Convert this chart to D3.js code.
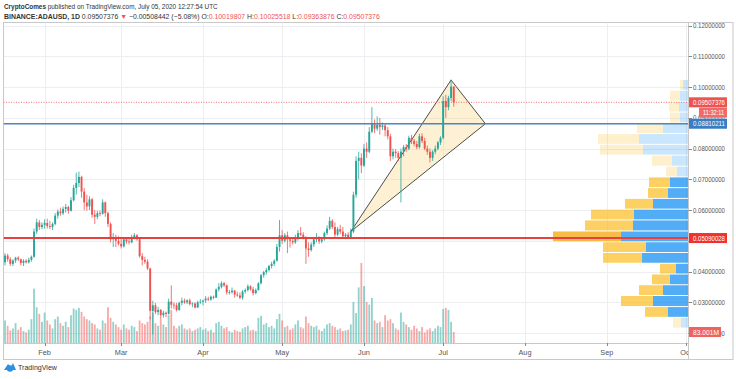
<!DOCTYPE html>
<html><head><meta charset="utf-8">
<script src="https://cdn.jsdelivr.net/npm/d3@7"></script>
<style>
html,body{margin:0;padding:0;background:#fff;}
svg{display:block;font-family:"Liberation Sans","DejaVu Sans",Arial,sans-serif;}
</style></head><body>
<svg id="c" width="736" height="379"></svg>
<script>
// ---------- DATA ----------
const startDay = Date.UTC(2020,0,17), endDay = Date.UTC(2020,6,6);
const open = [
 .0430,.0452,.0440,.0425,.0436,.0445,.0440,.0428,.0435,.0430,.0438,.0448,.0530,.0560,.0545,
 .0552,.0558,.0548,.0545,.0555,.0582,.0595,.0590,.0604,.0610,.0598,.0632,.0672,.0688,.0708,.0660,.0625,.0612,.0635,.0585,.0578,.0590,.0588,.0625,.0590,.0555,.0505,.0512,.0500,
 .0490,.0482,.0505,.0498,.0495,.0512,.0518,.0505,.0450,.0438,.0432,.0410,.0272,.0290,.0268,.0275,.0258,.0266,.0262,.0302,.0292,.0290,.0275,.0298,.0305,.0300,.0306,.0294,.0296,.0283,.0300,
 .0302,.0306,.0312,.0309,.0318,.0315,.0342,.0350,.0362,.0355,.0332,.0333,.0338,.0325,.0322,.0315,.0335,.0340,.0352,.0342,.0330,.0340,.0362,.0388,.0398,.0405,.0418,.0425,.0435,.0480,
 .0518,.0500,.0518,.0505,.0500,.0495,.0510,.0525,.0520,.0512,.0475,.0470,.0488,.0505,.0512,.0498,.0505,.0525,.0540,.0565,.0545,.0520,.0538,.0530,.0515,.0520,.0512,.0530,.0650,.0760,.0770,
 .0745,.0800,.0790,.0855,.0880,.0865,.0878,.0870,.0875,.0860,.0840,.0775,.0790,.0785,.0770,.0790,.0805,.0800,.0835,.0825,.0815,.0805,.0840,.0825,.0800,.0790,.0770,.0790,.0800,.0820,
 .0835,.0955,.0935,.0965,.10019807];
const high = [
 .0460,.0458,.0447,.0440,.0448,.0450,.0442,.0440,.0440,.0445,.0452,.0540,.0572,.0568,.0560,
 .0570,.0572,.0565,.0560,.0590,.0602,.0608,.0612,.0620,.0615,.0642,.0682,.0722,.0725,.0712,.0672,.0650,.0645,.0640,.0600,.0598,.0598,.0635,.0628,.0595,.0560,.0525,.0520,.0515,
 .0505,.0510,.0512,.0508,.0520,.0525,.0522,.0508,.0460,.0448,.0440,.0412,.0305,.0298,.0285,.0278,.0272,.0270,.0312,.0355,.0300,.0298,.0302,.0315,.0312,.0310,.0312,.0300,.0300,.0305,.0310,
 .0308,.0320,.0318,.0322,.0322,.0345,.0362,.0368,.0366,.0358,.0340,.0348,.0340,.0334,.0332,.0340,.0345,.0358,.0355,.0350,.0345,.0365,.0392,.0402,.0412,.0422,.0432,.0440,.0490,.0568,
 .0535,.0525,.0530,.0512,.0508,.0520,.0535,.0545,.0528,.0515,.0495,.0495,.0510,.0525,.0515,.0510,.0530,.0550,.0578,.0570,.0560,.0545,.0552,.0545,.0525,.0528,.0540,.0660,.0775,.0790,.0785,
 .0815,.0820,.0870,.0935,.0895,.0905,.0900,.0885,.0880,.0870,.0848,.0800,.0798,.0792,.0800,.0812,.0815,.0842,.0845,.0832,.0825,.0848,.0850,.0835,.0810,.0800,.0795,.0810,.0825,.0840,
 .0970,.0975,.0972,.1025,.10025518];
const low = [
 .0420,.0432,.0418,.0418,.0428,.0434,.0420,.0418,.0426,.0426,.0432,.0445,.0522,.0535,.0538,
 .0540,.0540,.0538,.0535,.0550,.0572,.0582,.0584,.0592,.0588,.0595,.0628,.0650,.0675,.0640,.0600,.0598,.0600,.0575,.0555,.0570,.0580,.0585,.0578,.0545,.0495,.0480,.0480,.0485,
 .0475,.0478,.0490,.0488,.0492,.0505,.0500,.0445,.0420,.0425,.0405,.0245,.0195,.0262,.0258,.0245,.0250,.0252,.0260,.0280,.0278,.0270,.0272,.0290,.0295,.0294,.0290,.0284,.0280,.0281,.0295,
 .0290,.0298,.0304,.0305,.0310,.0314,.0335,.0345,.0350,.0325,.0325,.0328,.0315,.0318,.0310,.0308,.0328,.0335,.0338,.0322,.0326,.0338,.0358,.0380,.0390,.0400,.0410,.0418,.0432,.0465,
 .0490,.0495,.0460,.0478,.0488,.0490,.0500,.0515,.0505,.0425,.0448,.0465,.0480,.0495,.0490,.0492,.0500,.0518,.0535,.0538,.0510,.0515,.0522,.0510,.0505,.0508,.0508,.0525,.0640,.0700,.0720,
 .0740,.0770,.0785,.0850,.0850,.0858,.0845,.0860,.0840,.0830,.0760,.0765,.0770,.0760,.0625,.0775,.0790,.0795,.0815,.0808,.0798,.0800,.0818,.0795,.0780,.0755,.0760,.0782,.0795,.0812,
 .0830,.0900,.0925,.0955,.09363876];
const close = [
 .0452,.0440,.0425,.0436,.0445,.0440,.0428,.0435,.0430,.0438,.0448,.0530,.0560,.0545,.0552,
 .0558,.0548,.0545,.0555,.0582,.0595,.0590,.0604,.0610,.0598,.0632,.0672,.0688,.0708,.0660,.0625,.0612,.0635,.0585,.0578,.0590,.0588,.0625,.0590,.0555,.0505,.0512,.0500,.0490,
 .0482,.0505,.0498,.0495,.0512,.0518,.0505,.0450,.0438,.0432,.0410,.0272,.0290,.0268,.0275,.0258,.0266,.0262,.0302,.0292,.0290,.0275,.0298,.0305,.0300,.0306,.0294,.0296,.0283,.0300,.0302,
 .0306,.0312,.0309,.0318,.0315,.0342,.0350,.0362,.0355,.0332,.0333,.0338,.0325,.0322,.0315,.0335,.0340,.0352,.0342,.0330,.0340,.0362,.0388,.0398,.0405,.0418,.0425,.0435,.0480,.0518,
 .0500,.0518,.0505,.0500,.0495,.0510,.0525,.0520,.0512,.0475,.0470,.0488,.0505,.0512,.0498,.0505,.0525,.0540,.0565,.0545,.0520,.0538,.0530,.0515,.0520,.0512,.0530,.0650,.0760,.0770,.0745,
 .0800,.0790,.0855,.0880,.0865,.0878,.0870,.0875,.0860,.0840,.0775,.0790,.0785,.0770,.0790,.0805,.0800,.0835,.0825,.0815,.0805,.0840,.0825,.0800,.0790,.0770,.0790,.0800,.0820,.0835,
 .0955,.0935,.0965,.1002,.09507376];
// volume, millions
const volume = [
 170,130,95,110,150,100,120,90,80,100,180,410,270,220,160,
 230,170,140,110,180,200,150,130,160,120,210,260,250,265,235,200,180,170,150,140,110,100,170,150,270,190,160,140,120,
 100,140,110,100,130,120,90,170,150,140,160,200,230,150,130,180,140,120,210,250,130,110,130,140,110,100,110,90,100,110,120,
 100,110,90,100,80,150,160,130,110,120,90,80,100,90,85,110,120,130,95,100,90,190,205,140,150,120,130,110,180,220,
 170,120,130,100,110,140,170,120,110,200,150,130,120,130,100,90,110,140,150,130,120,100,110,90,95,100,140,310,226,420,604,
 430,310,290,340,170,150,160,120,210,170,180,150,110,100,230,160,140,120,100,130,110,90,120,80,100,110,90,110,130,120,
 257,265,250,160,83.001];
const priceTicks = [0.02,0.03,0.04,0.05,0.06,0.07,0.08,0.09,0.10,0.11,0.12];
// volume profile rows (bottom price of each row, last = top)
const vpEdges = [0.0216,0.0251,0.0286,0.0322,0.0357,0.0392,0.0427,0.0462,0.0497,0.0532,0.0568,0.0603,0.0638,0.0673,0.0708,0.0743,0.0779,0.0814,0.0849,0.0884,0.0919,0.0954,0.0990,0.1025];
const vpUp   = [7,20,35,25,18,12,46,42,67,55,54,35,20,18,11,16,45,49,25,8,9,8,5];
const vpDown = [8,23,32,24,18,16,39,43,68,48,43,28,20,21,11,20,43,41,26,10,10,10,3];
const vpValueArea = [1,13]; // row index range inside value area
const vpPOC = 8;
const supportLevel = 0.05090028, resistLevel = 0.08810211, lastPrice = 0.09507376;
const triangle = [[Date.UTC(2020,4,27),0.0530],[Date.UTC(2020,6,4),0.1023],[Date.UTC(2020,6,17),0.0881]];

// ---------- LAYOUT ----------
const L=3.5, R=688, T=22.5, B=343, AX=359.5, FR=733;
const svg = d3.select("#c");
const dates = d3.utcDay.range(new Date(startDay), new Date(endDay));
const x = d3.scaleUtc().domain([new Date(Date.UTC(2020,1,1)), new Date(Date.UTC(2020,9,1))]).range([44.6,686]);
const y = d3.scaleLinear().domain([0.02,0.12]).range([333.0,25.7]);
const yv = d3.scaleLinear().domain([0,d3.max(volume)]).range([B,263]);
const UP="#26a69a", DN="#ef5350";

svg.append("defs").append("clipPath").attr("id","plot").append("rect")
  .attr("x",L).attr("y",T).attr("width",R-L).attr("height",B-T);
svg.select("defs").append("clipPath").attr("id","taxis").append("rect")
  .attr("x",L).attr("y",B).attr("width",R-L).attr("height",AX-B);

// header
function fitLine(parts, yy, width){
  const t = svg.append("text").attr("font-size",7).attr("fill","#333");
  parts.forEach(p=>t.append("tspan").text(p[0]).attr("font-weight",p[1]?"bold":null).attr("fill",p[2]||null));
  const w = t.node().getComputedTextLength();
  t.attr("transform",`translate(4,${yy}) scale(${width/w},1)`);
}
fitLine([["CryptoComes",1],[" published on TradingView.com, July 05, 2020 12:27:54 UTC"]], 8.5, 214);
fitLine([["BINANCE:ADAUSD, 1D",1],["  0.09507376 "],["▼",0,DN],[" −0.00508442 (−5.08%)  "],["O:"],["0.10019807",0,DN],[" H:"],["0.10025518",0,DN],[" L:"],["0.09363876",0,DN],[" C:"],["0.09507376",0,DN]], 18.5, 377);

// frame
svg.append("rect").attr("x",L).attr("y",T).attr("width",FR-L).attr("height",AX-T)
  .attr("fill","none").attr("stroke","#c9c9c9").attr("stroke-width",1);

const plot = svg.append("g").attr("clip-path","url(#plot)");
// grid
const monthTicks = x.ticks(d3.utcMonth.every(1)).filter(d=>x(d)>L && x(d)<R);
plot.selectAll(".vg").data(monthTicks).join("line")
  .attr("x1",d=>Math.round(x(d))+.5).attr("x2",d=>Math.round(x(d))+.5).attr("y1",T).attr("y2",B)
  .attr("stroke","#eceef2").attr("stroke-width",1);
plot.selectAll(".hg").data(priceTicks).join("line")
  .attr("x1",L).attr("x2",R).attr("y1",d=>Math.round(y(d))+.5).attr("y2",d=>Math.round(y(d))+.5)
  .attr("stroke","#eceef2").attr("stroke-width",1);

// volume
const idx = d3.range(dates.length);
plot.selectAll(".vol").data(idx).join("rect")
  .attr("x",i=>x(dates[i])-0.9).attr("width",1.8)
  .attr("y",i=>yv(volume[i])).attr("height",i=>B-yv(volume[i]))
  .attr("fill",i=>close[i]>=open[i]?"rgba(38,166,154,0.5)":"rgba(239,83,80,0.5)");

// triangle
plot.append("path")
  .attr("d", d3.line().x(d=>x(new Date(d[0]))).y(d=>y(d[1])).curve(d3.curveLinearClosed)(triangle))
  .attr("fill","rgba(250,205,110,0.3)").attr("stroke","#222").attr("stroke-width",0.8);

// candles
const cg = plot.append("g");
cg.selectAll(".wick").data(idx).join("line")
  .attr("x1",i=>x(dates[i])).attr("x2",i=>x(dates[i]))
  .attr("y1",i=>y(high[i])).attr("y2",i=>y(low[i]))
  .attr("stroke",i=>close[i]>=open[i]?UP:DN).attr("stroke-width",0.8);
cg.selectAll(".body").data(idx).join("rect")
  .attr("x",i=>x(dates[i])-0.95).attr("width",1.9)
  .attr("y",i=>y(Math.max(open[i],close[i])))
  .attr("height",i=>Math.max(0.8,Math.abs(y(open[i])-y(close[i]))))
  .attr("fill",i=>close[i]>=open[i]?UP:DN);

// volume profile
const rows = d3.range(vpUp.length);
const vpMax = d3.max(rows,i=>vpUp[i]+vpDown[i]);
const vw = d3.scaleLinear().domain([0,vpMax]).range([0,135]);
const inVA = i=>i>=vpValueArea[0]&&i<=vpValueArea[1];
const vp = plot.append("g");
rows.forEach(i=>{
  const yt=y(vpEdges[i+1])+0.5, yb=y(vpEdges[i])-0.5;
  const bw=vw(vpUp[i]), dw=vw(vpDown[i]);
  vp.append("rect").attr("x",R-bw).attr("width",bw).attr("y",yt).attr("height",yb-yt)
    .attr("fill",inVA(i)?"rgba(33,150,243,0.78)":"rgba(33,150,243,0.24)");
  vp.append("rect").attr("x",R-bw-dw).attr("width",dw).attr("y",yt).attr("height",yb-yt)
    .attr("fill",i===vpPOC?"rgba(247,178,40,0.85)":(inVA(i)?"rgba(251,192,45,0.75)":"rgba(251,192,45,0.24)"));
});

// horizontal levels
plot.append("line").attr("x1",L).attr("x2",R).attr("y1",y(lastPrice)).attr("y2",y(lastPrice))
  .attr("stroke",DN).attr("stroke-width",0.8).attr("stroke-dasharray","1,1.5");
plot.append("line").attr("x1",L).attr("x2",R).attr("y1",y(resistLevel)).attr("y2",y(resistLevel))
  .attr("stroke","#4a86c0").attr("stroke-width",1.6);
plot.append("line").attr("x1",L).attr("x2",R).attr("y1",y(supportLevel)).attr("y2",y(supportLevel))
  .attr("stroke","#e8403e").attr("stroke-width",1.9);

// price axis
svg.append("line").attr("x1",R+.5).attr("x2",R+.5).attr("y1",T).attr("y2",AX).attr("stroke","#c9c9c9");
const pa = svg.append("g");
const hiddenTicks = [0.05]; // fully covered by the support-level tag
priceTicks.forEach(p=>{
  pa.append("line").attr("x1",R+.5).attr("x2",R+4).attr("y1",Math.round(y(p))+.5).attr("y2",Math.round(y(p))+.5).attr("stroke","#888");
  if (hiddenTicks.includes(p)) return;
  pa.append("text").attr("x",693).attr("y",y(p)).attr("dy","0.35em").attr("font-size",7.3)
    .attr("fill","#555").attr("textLength",32).attr("lengthAdjust","spacingAndGlyphs")
    .text(d3.format(".8f")(p));
});
function tag(yc,x0,x1,fill,txt,tl){
  pa.append("rect").attr("x",x0).attr("y",yc-5).attr("width",x1-x0).attr("height",10).attr("fill",fill);
  pa.append("text").attr("x",x0+4).attr("y",yc).attr("dy","0.35em").attr("font-size",7.3)
    .attr("fill","#fff").attr("textLength",tl).attr("lengthAdjust","spacingAndGlyphs").text(txt);
}
tag(y(lastPrice),689,727,DN,d3.format(".8f")(lastPrice),32);
tag(y(lastPrice)+10.3,699,727,"#f06b68","11:32:11",21);
tag(y(resistLevel),689,727,"#3a7dc2",d3.format(".8f")(resistLevel),32);
tag(y(supportLevel),689,727,"#f2302c",d3.format(".8f")(supportLevel),32);
tag(yv(volume[volume.length-1]),689,721,"#ee6260",d3.format(".3f")(volume[volume.length-1])+"M",26);

// time axis
svg.append("line").attr("x1",L).attr("x2",R).attr("y1",B+.5).attr("y2",B+.5).attr("stroke","#c9c9c9");
const ta = svg.append("g").attr("clip-path","url(#taxis)");
ta.selectAll("line").data(monthTicks).join("line")
  .attr("x1",d=>Math.round(x(d))+.5).attr("x2",d=>Math.round(x(d))+.5).attr("y1",B).attr("y2",B+3).attr("stroke","#888");
ta.selectAll("text").data(monthTicks).join("text")
  .attr("x",d=>x(d)).attr("y",354.5).attr("text-anchor","middle").attr("font-size",7.3).attr("fill","#555")
  .text(d3.utcFormat("%b"));

// TradingView logo
const lg = svg.append("g").attr("transform","translate(4,362)");
lg.append("path").attr("d","M0,8 L4,2 L7,5 L9,1 L12,8 Z").attr("fill","#2f8fe0");
lg.append("circle").attr("cx",6).attr("cy",6.5).attr("r",3.2).attr("fill","#2f8fe0");
svg.append("text").attr("x",18).attr("y",370).attr("font-size",7.2).attr("fill","#333")
  .attr("textLength",39).attr("lengthAdjust","spacingAndGlyphs").text("TradingView");
</script>
</body></html>
